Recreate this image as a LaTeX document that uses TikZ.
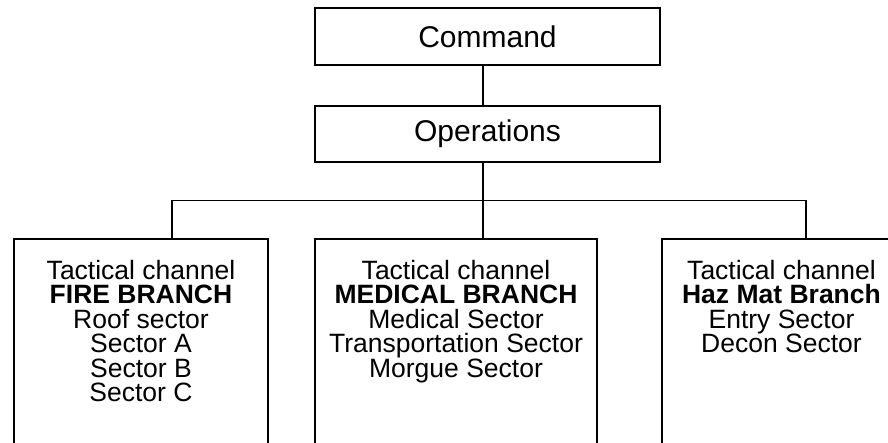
\documentclass[tikz,border=0pt]{standalone}
\usepackage{fontspec}
\setmainfont{Liberation Sans}
\usetikzlibrary{positioning,calc}
\tikzset{
  topbox/.style={
    draw,
    line width=1.6pt,
    align=center,
    minimum width=345pt,
    minimum height=57pt,
    font=\fontsize{30}{32}\selectfont
  },
  branchbox/.style={
    draw,
    line width=1.6pt,
    align=center,
    anchor=north,
    inner xsep=0pt,
    inner ysep=21pt,
    text depth=190pt,
    font=\fontsize{26.5}{24.5}\selectfont
  },
  link/.style={line width=1.2pt}
}
\begin{document}
\begin{tikzpicture}[x=1pt,y=-1pt]

\clip (0,0) rectangle (888,443);

\node[topbox] (cmd) at (487.5,36.5) {Command};
\node[topbox,minimum height=56pt] (ops) at (487.5,134) {Operations};

\node[branchbox,minimum width=254pt] (fire) at (141,238)
  {Tactical channel\\\textbf{FIRE BRANCH}\\Roof sector\\Sector A\\Sector B\\Sector C};
\node[branchbox,minimum width=282pt] (med) at (456,238)
  {Tactical channel\\\textbf{MEDICAL BRANCH}\\Medical Sector\\Transportation Sector\\Morgue Sector};
\node[branchbox,minimum width=239pt] (haz) at (781.5,238)
  {Tactical channel\\\textbf{Haz Mat Branch}\\Entry Sector\\Decon Sector};

\coordinate (bus) at ($(ops.south)+(-4.5,38)$);

\draw[link] (cmd.south -| bus) -- (ops.north -| bus);
\draw[link] (ops.south -| bus) -- (med.north -| bus);
\draw[link] ([xshift=31pt]fire.north) |- (bus) -| ([xshift=24.5pt]haz.north);

\end{tikzpicture}
\end{document}
